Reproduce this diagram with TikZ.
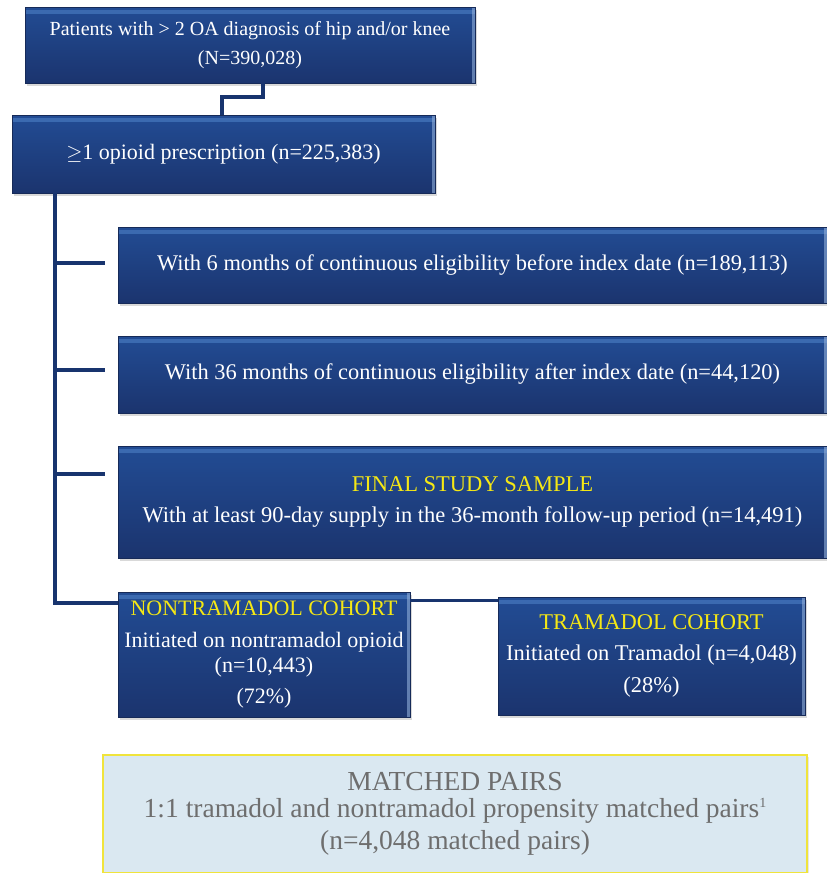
\documentclass[tikz,border=0pt]{standalone}
\usepackage{fontspec}
\setmainfont{Liberation Serif}
\usetikzlibrary{shadows}
\definecolor{boxtop}{RGB}{34,76,148}
\definecolor{boxbot}{RGB}{27,52,110}
\definecolor{boxbevel}{RGB}{70,120,190}
\definecolor{linkblue}{RGB}{24,52,110}
\definecolor{cohort}{RGB}{245,232,20}
\definecolor{pairfill}{RGB}{218,232,241}
\definecolor{pairline}{RGB}{240,228,60}
\definecolor{pairtext}{RGB}{110,110,110}
\tikzset{every picture/.style={x=1pt, y=-1pt}}
\tikzset{stage/.style={rectangle, top color=boxtop, bottom color=boxbot, draw=boxbot!80!black,
  line width=0.6pt, drop shadow={opacity=0.3, shadow xshift=2pt, shadow yshift=-2.5pt},
  path picture={
    \fill[boxbevel, opacity=0.7] ([yshift=-3pt]path picture bounding box.north west)
      rectangle ([yshift=-7pt]path picture bounding box.north east);
    \fill[boxbevel!60!white, opacity=0.6] ([xshift=-3pt]path picture bounding box.north east)
      rectangle (path picture bounding box.south east);},
  text=white, align=center, inner sep=2pt}}
\tikzset{link/.style={draw=linkblue, line width=4.5pt}}
\newcommand{\txt}[1]{\fontsize{#1}{#1}\selectfont}

\begin{document}
\begin{tikzpicture}
\useasboundingbox (0,0) rectangle (827,873);
\node[stage, minimum width=450pt, minimum height=76pt] (top) at (250,45)
  {\txt{20}Patients with > 2 OA diagnosis of hip and/or knee\\[10pt]\txt{20}(N=390,028)};
\node[stage, minimum width=423pt, minimum height=78pt] (opioid) at (223.5,154)
  {\txt{22}$\geq$1 opioid prescription (n=225,383)};
\node[stage, minimum width=709pt, minimum height=76pt] (six) at (472.5,265)
  {\txt{22.4}With 6 months of continuous eligibility before index date (n=189,113)};
\node[stage, minimum width=709pt, minimum height=77pt] (thirtysix) at (472.5,374.5)
  {\txt{22.4}With 36 months of continuous eligibility after index date (n=44,120)};
\node[stage, minimum width=709pt, minimum height=112pt] (final) at (472.5,502)
  {\txt{22.5}\textcolor{cohort}{FINAL STUDY SAMPLE}\\[14pt]\txt{22.5}With at least 90-day supply in the 36-month follow-up period (n=14,491)};
\node[stage, minimum width=292pt, minimum height=125pt] (nontram) at (264,654.5)
  {\txt{22}\textcolor{cohort}{NONTRAMADOL COHORT}\\[15pt]\txt{22}Initiated on nontramadol opioid\\[4pt]\txt{22}(n=10,443)\\[10pt]\txt{22}(72\%)};
\node[stage, minimum width=307pt, minimum height=118pt] (tram) at (651.5,656)
  {\txt{22.5}\textcolor{cohort}{TRAMADOL COHORT}\\[14pt]\txt{22.5}Initiated on Tramadol (n=4,048)\\[11pt]\txt{22.5}(28\%)};
\node[rectangle, fill=pairfill, draw=pairline, line width=1.5pt, text=pairtext, align=center,
  drop shadow={opacity=0.2, shadow xshift=2pt, shadow yshift=-2pt},
  minimum width=704pt, minimum height=118pt] (matched) at (455,814)
  {\txt{27.5}MATCHED PAIRS\\[7pt]\txt{27.5}1:1 tramadol and nontramadol propensity matched pairs\raisebox{10pt}{\txt{14}1}\\[6pt]\txt{27.5}(n=4,048 matched pairs)};
% connectors
\coordinate (b1) at (263,97);
\coordinate (b2) at (222,97);
\coordinate (trunk) at (55,603);
\coordinate (t3) at (105,263);
\coordinate (t4) at (105,370);
\coordinate (t5) at (105,474);
\coordinate (t7) at (0,600);
\draw[link] (top.south -| b1) -- (b1) -- (b2) -- (opioid.north -| b2);
\draw[link] (opioid.south -| trunk) -- (trunk) -- (trunk -| nontram.west);
\draw[link] (t3 -| trunk) -- (t3);
\draw[link] (t4 -| trunk) -- (t4);
\draw[link] (t5 -| trunk) -- (t5);
\draw[draw=linkblue, line width=3pt] (nontram.east |- t7) -- (tram.west |- t7);
\end{tikzpicture}
\end{document}
